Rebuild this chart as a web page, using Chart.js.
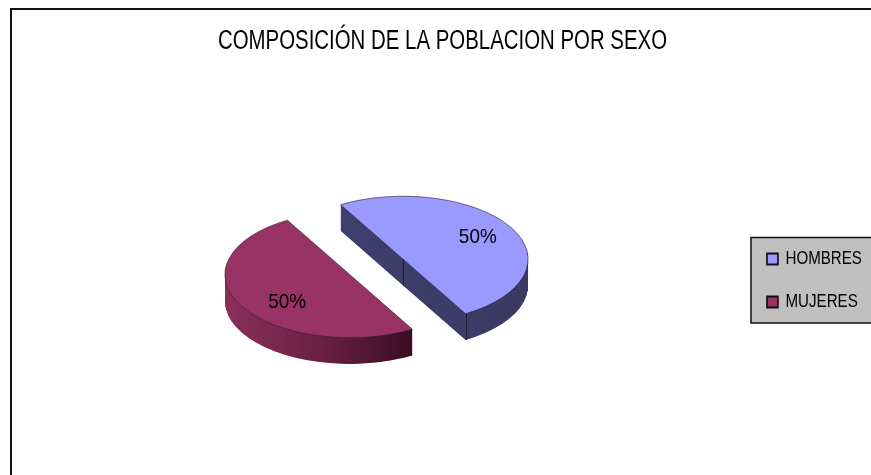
<!DOCTYPE html>
<html><head><meta charset="utf-8">
<style>html,body{margin:0;padding:0;background:#fff;overflow:hidden}#w{position:absolute;left:0;top:0;width:871px;height:475px}</style>
<script src="https://cdn.jsdelivr.net/npm/chart.js@4"></script>
</head><body><div id="w"><canvas id="c" width="871" height="475"></canvas></div>
<script>
const chartTitle = 'COMPOSICIÓN DE LA POBLACION POR SEXO';
const categories = ['HOMBRES', 'MUJERES'];
const shares = [50, 50];
const faceColors = ['#9999FF', '#993366'];
const sans = '"Liberation Sans",Arial,sans-serif';
const SQUASH = 0.504, DEPTH = 52, EXPLODE = 30.7, TITLE_SX = 0.756, LEGEND_SX = 0.84, LABEL_SX = 0.9;
const geom = a => ({mid: (a.startAngle + a.endAngle) / 2, x: a.x, y: a.y, r: a.outerRadius});
const narrowed = (box, pivot, sx) => {
  const draw = box.draw;
  box.draw = function (area) {
    const c = box.ctx;
    c.save(); c.translate(pivot, 0); c.scale(sx, 1); c.translate(-pivot, 0);
    draw.call(box, area);
    c.restore();
  };
  box.$narrowed = true;
};
let squashCentre = 0;
const pie3d = {
  id: 'pie3d',
  afterLayout(chart) {
    const l = chart.legend, t = chart.titleBlock;
    l.left = 742; l.right = 900; l.top = 225; l.bottom = 475;
    t.left = 14; t.right = 871;
    if (!t.$narrowed) narrowed(t, 442.5, TITLE_SX);
    if (!l.$narrowed) narrowed(l, 767, LEGEND_SX);
  },
  afterDatasetsUpdate(chart) {
    const arcs = chart.getDatasetMeta(0).data;
    squashCentre = arcs[0].y;
    arcs.forEach(a => {
      const mid = (a.startAngle + a.endAngle) / 2;
      a.x += Math.cos(mid) * EXPLODE;
      a.y += Math.sin(mid) * EXPLODE;
    });
  },
  beforeDraw(chart) {
    const c = chart.ctx;
    c.save();
    c.strokeStyle = '#111'; c.lineWidth = 2;
    c.beginPath(); c.moveTo(11, 475); c.lineTo(11, 9); c.lineTo(871, 9); c.stroke();
    c.fillStyle = '#C0C0C0'; c.strokeStyle = '#111'; c.lineWidth = 1.5;
    c.fillRect(751, 237.5, 125, 85.5); c.strokeRect(751, 237.5, 125, 85.5);
    c.restore();
  },
  beforeDatasetsDraw(chart) {
    const c = chart.ctx, arcs = chart.getDatasetMeta(0).data;
    const cy = squashCentre;
    c.save();
    c.translate(0, cy); c.scale(1, SQUASH); c.translate(0, -cy);
    arcs.forEach((a, i) => {
      const g = geom(a);
      let fill;
      if (i === 0) {
        fill = c.createLinearGradient(g.x - 62, 0, g.x + g.r, 0);
        fill.addColorStop(0, '#3F3F6E'); fill.addColorStop(1, '#393962');
      } else {
        fill = c.createLinearGradient(g.x - g.r, 0, g.x + g.r * Math.cos(a.startAngle), 0);
        fill.addColorStop(0, '#8C2E5C'); fill.addColorStop(.5, '#6A2146'); fill.addColorStop(1, '#3A0D22');
      }
      const saved = a.options;
      a.options = Object.assign({}, saved, {backgroundColor: fill, borderWidth: 0});
      for (let d = DEPTH; d >= 1; d--) {
        c.save(); c.translate(0, d); a.draw(c); c.restore();
      }
      a.options = saved;
    });
  },
  afterDatasetsDraw(chart) {
    const c = chart.ctx, arcs = chart.getDatasetMeta(0).data;
    c.restore();
    const cy = squashCentre, map = y => cy + (y - cy) * SQUASH;
    const gb = geom(arcs[0]), gr = geom(arcs[1]);
    c.save();
    c.strokeStyle = 'rgba(25,20,40,.75)'; c.lineWidth = 1;
    const edge = (x, y) => { c.beginPath(); c.moveTo(x, map(y)); c.lineTo(x, map(y) + DEPTH * SQUASH); c.stroke(); };
    edge(Math.round(gb.x + gb.r * Math.cos(arcs[0].endAngle)) + .5, gb.y + gb.r * Math.sin(arcs[0].endAngle));
    edge(Math.round(gb.x) + .5, gb.y);
    edge(Math.round(gr.x + gr.r * Math.cos(arcs[1].startAngle)) - .5, gr.y + gr.r * Math.sin(arcs[1].startAngle));
    c.fillStyle = '#000';
    c.font = '21px ' + sans;
    c.textAlign = 'center'; c.textBaseline = 'middle';
    const nudge = [[0, 0], [12, 6]];
    arcs.forEach((a, i) => {
      const g = geom(a), r = g.r * 0.69;
      c.save();
      c.translate(g.x + Math.cos(g.mid) * r + nudge[i][0], map(g.y + Math.sin(g.mid) * r) + nudge[i][1]);
      c.scale(LABEL_SX, 1);
      c.fillText(shares[i] + '%', 0, 0);
      c.restore();
    });
    c.restore();
  }
};
new Chart(document.getElementById('c'), {
  type: 'pie',
  data: {labels: categories, datasets: [{
    data: shares, backgroundColor: faceColors, borderColor: 'rgba(45,35,60,.8)', borderWidth: 1, clip: false
  }]},
  plugins: [pie3d],
  options: {
    responsive: false, animation: false, events: [],
    rotation: -30, radius: 125,
    layout: {padding: {left: 0, right: 118, top: 0, bottom: 3.5}},
    plugins: {
      tooltip: {enabled: false},
      title: {display: true, text: chartTitle, color: '#000', align: 'center',
        font: {family: sans, size: 27, weight: 'normal'}, padding: {top: 25, bottom: 5}},
      legend: {position: 'chartArea', align: 'start', labels: {
        color: '#000', font: {family: sans, size: 18}, boxWidth: 13, boxHeight: 11, padding: 25,
        generateLabels: ch => categories.map((t, i) => ({text: t, fillStyle: faceColors[i], strokeStyle: '#111', lineWidth: 2, index: i}))
      }}
    }
  }
});
</script></body></html>
